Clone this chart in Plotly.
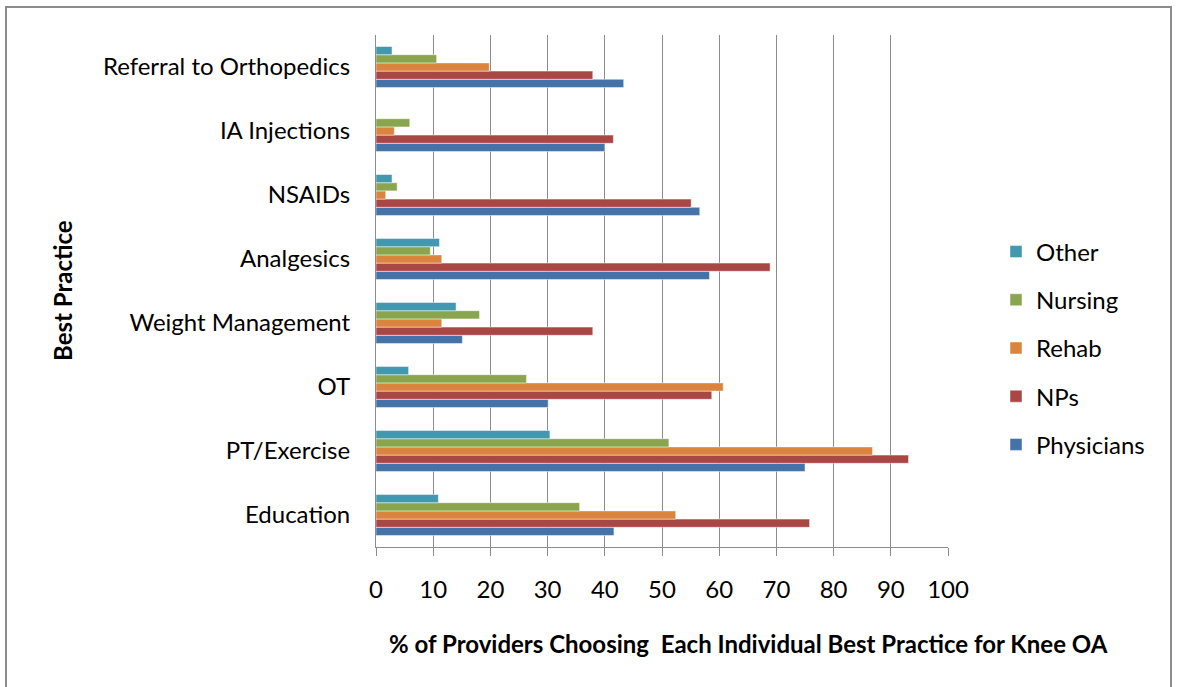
import plotly.graph_objects as go

categories = ["Education", "PT/Exercise", "OT", "Weight Management", "Analgesics",
              "NSAIDs", "IA Injections", "Referral to Orthopedics"]
physicians = [41.6, 75.0, 30.1, 15.1, 58.3, 56.6, 40.0, 43.3]
nps = [75.8, 93.1, 58.7, 37.9, 68.9, 55.1, 41.5, 37.9]
rehab = [52.4, 86.8, 60.7, 11.5, 11.5, 1.7, 3.2, 19.8]
nursing = [35.6, 51.2, 26.3, 18.1, 9.5, 3.7, 5.9, 10.6]
other = [10.9, 30.4, 5.7, 14.0, 11.1, 2.8, 0, 2.8]
x_ticks = [0, 10, 20, 30, 40, 50, 60, 70, 80, 90, 100]

series = [("Physicians", physicians, "#4572A7", 5), ("NPs", nps, "#AA4643", 4),
          ("Rehab", rehab, "#DB843D", 3), ("Nursing", nursing, "#89A54E", 2),
          ("Other", other, "#4198AF", 1)]

FONT = "Lato"
FS = 24
fig = go.Figure()
for name, vals, col, rank in series:
    fig.add_trace(go.Bar(y=categories, x=vals, name=name, orientation="h",
                         marker=dict(color=col, line=dict(color="rgba(255,255,255,0.6)", width=0.8)),
                         legendgroup=name, legendrank=rank))

W, H = 1177, 687
L, R, T, B = 376, 948, 35, 547
def px(x): return (x - L) / (R - L)
def py(y): return (B - y) / (B - T)

fig.update_layout(
    width=W, height=H, barmode="group", bargap=0.36, bargroupgap=0,
    paper_bgcolor="white", plot_bgcolor="white",
    margin=dict(l=L, r=W - R, t=T, b=H - B, autoexpand=False),
    font=dict(family=FONT, size=FS, color="#000"),
    legend=dict(traceorder="grouped", tracegroupgap=14, x=px(996), y=py(348),
                xanchor="left", yanchor="middle", font=dict(size=FS, family=FONT),
                itemwidth=30),
    showlegend=True,
)
fig.update_xaxes(range=[0, 100], tickvals=x_ticks, showgrid=True, gridcolor="#8C8C8C",
                 gridwidth=1, showline=True, linecolor="#8C8C8C", linewidth=1,
                 ticks="outside", ticklen=8, tickcolor="#8C8C8C", ticklabelstandoff=13,
                 tickfont=dict(size=FS, family=FONT), zeroline=False, fixedrange=True)
fig.update_yaxes(showline=True, linecolor="#8C8C8C", linewidth=1, ticks="",
                 ticklabelstandoff=20, tickfont=dict(size=FS, family=FONT))

fig.add_annotation(text="<b>% of Providers Choosing  Each Individual Best Practice for Knee OA</b>",
                   xref="paper", yref="paper", x=px(748), y=py(643), showarrow=False,
                   xanchor="center", yanchor="middle", font=dict(size=FS, family=FONT))
fig.add_annotation(text="<b>Best Practice</b>", textangle=-90,
                   xref="paper", yref="paper", x=px(62), y=py(291), showarrow=False,
                   xanchor="center", yanchor="middle", font=dict(size=FS, family=FONT))
fig.add_shape(type="rect", xref="paper", yref="paper",
              x0=px(6), x1=px(1171), y0=py(700), y1=py(7),
              line=dict(color="#8C8C8C", width=2), fillcolor="rgba(0,0,0,0)")

fig.write_html("out.html", config={"displayModeBar": False},
               post_script="document.body.style.margin='0';document.body.style.overflow='hidden';")
